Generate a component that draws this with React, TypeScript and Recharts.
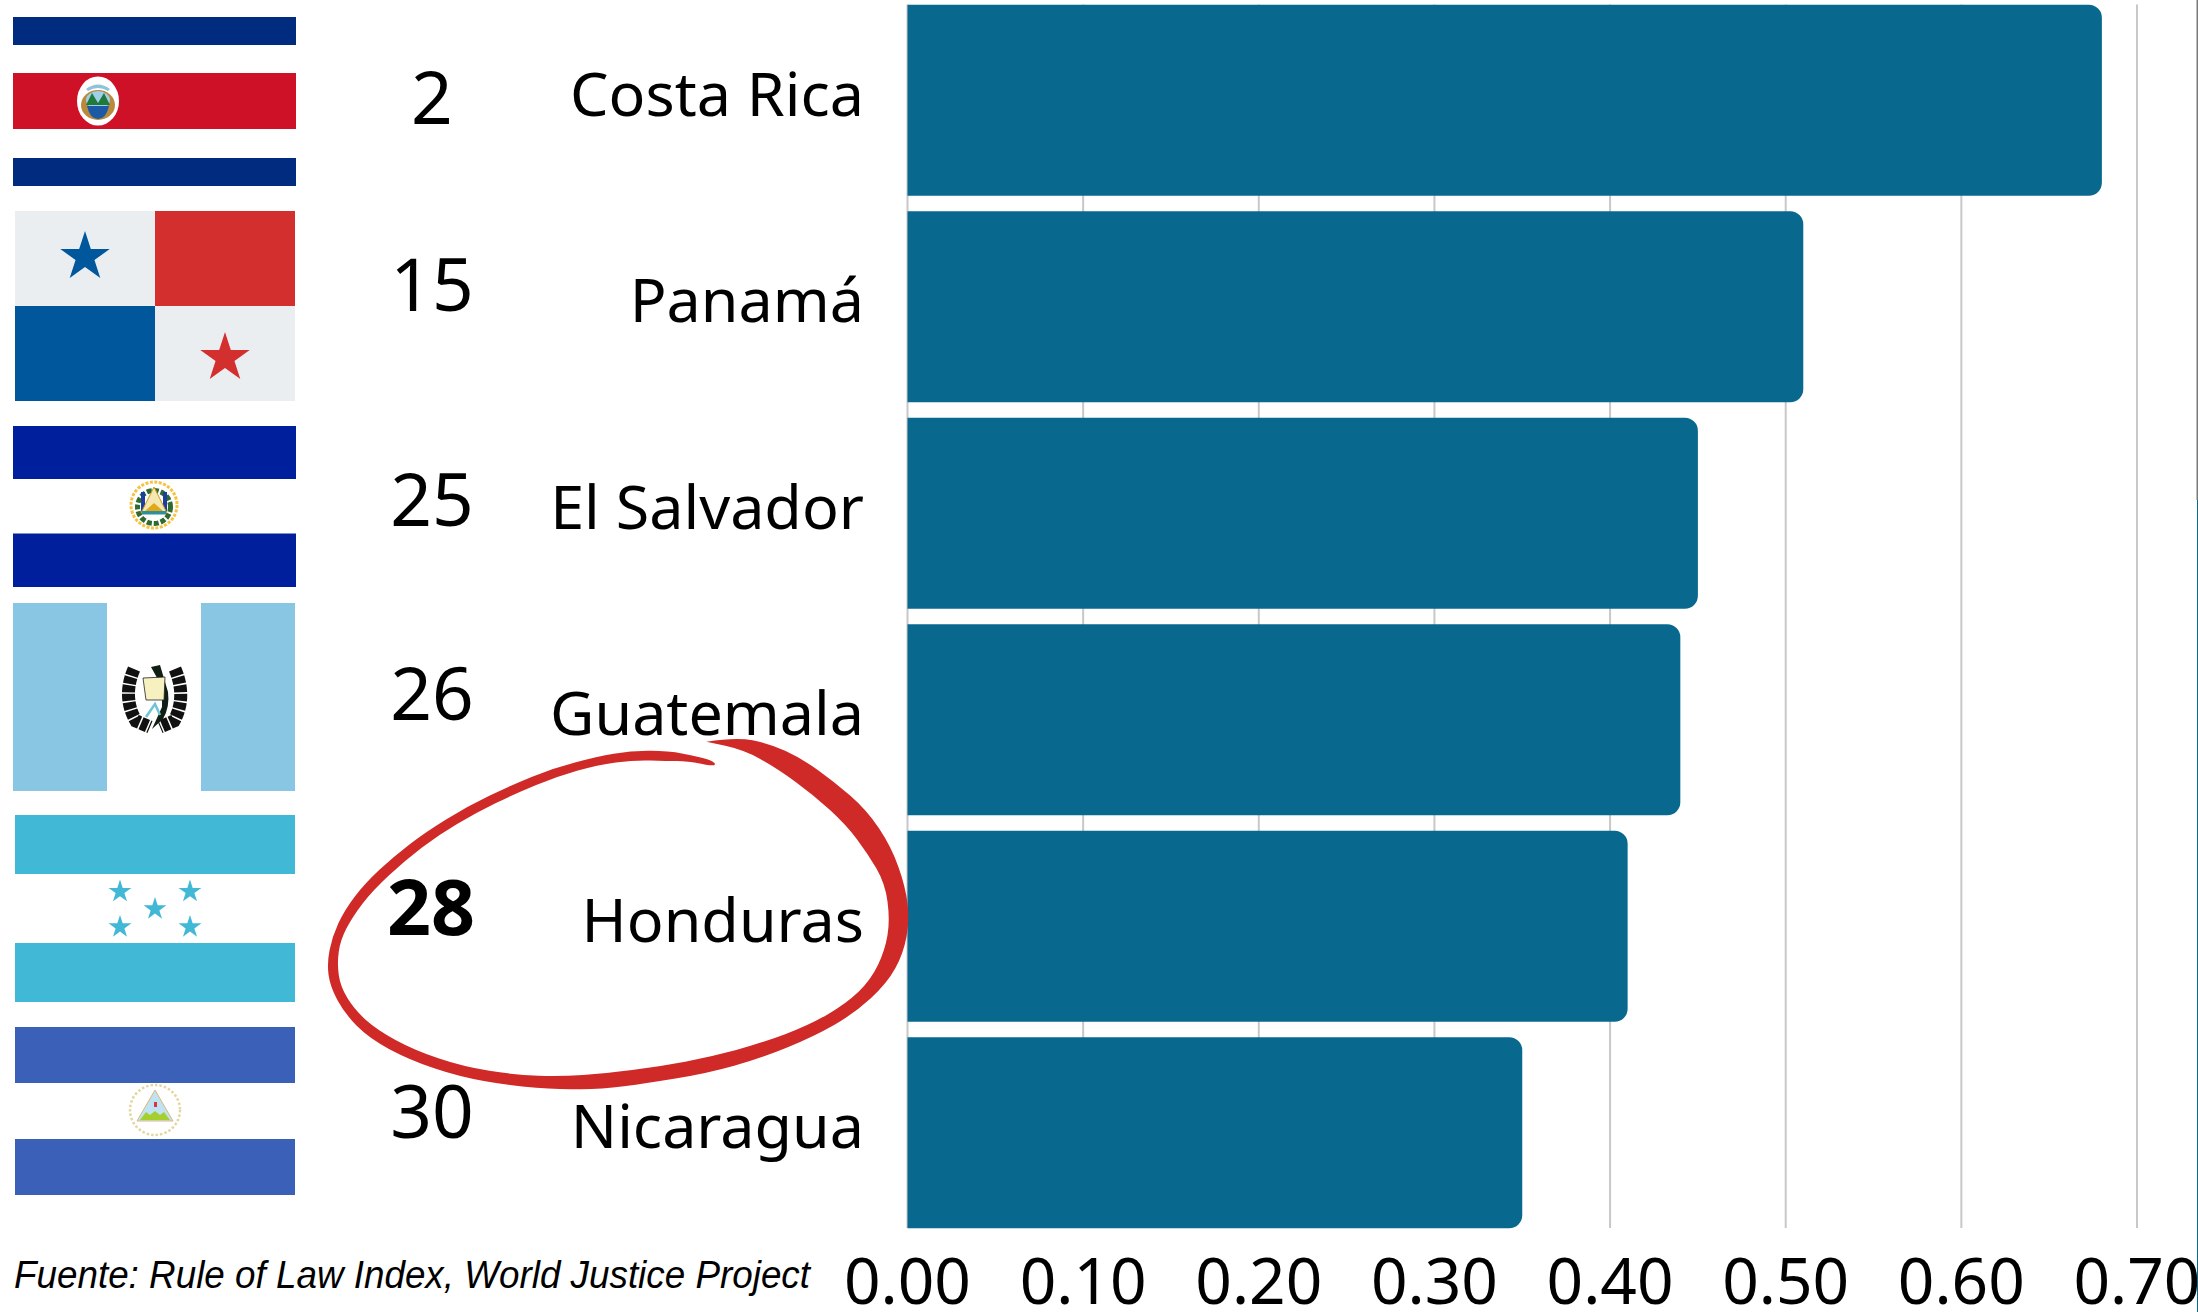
import { BarChart, Bar, XAxis, YAxis, CartesianGrid } from "recharts";

const countries = ["Costa Rica", "Panamá", "El Salvador", "Guatemala", "Honduras", "Nicaragua"];
const scores = [0.68, 0.51, 0.45, 0.44, 0.41, 0.35];
const ranks = ["2", "15", "25", "26", "28", "30"];
const xTicks = [0, 0.1, 0.2, 0.3, 0.4, 0.5, 0.6, 0.7];
const source = "Fuente: Rule of Law Index, World Justice Project";

const chartData = countries.map((country, i) => ({ country, score: scores[i] }));

// baselines of the rank numbers, they do not sit evenly in the original
const rankBaselines = [124, 311, 526, 720, 935, 1138];

const BAR_COLOR = "#09688e";
const FONT = "'Noto Sans', sans-serif";

// hand drawn ring (crop coordinates)
const ringOuter = [
  [947, 125], [1020, 112], [1100, 130], [1180, 175], [1260, 245], [1340, 330], [1400, 440], [1435, 560],
  [1445, 660], [1430, 760], [1390, 850], [1310, 940], [1210, 1010], [1080, 1075], [950, 1120], [800, 1150],
  [690, 1168], [590, 1168], [470, 1158], [340, 1130], [220, 1080], [120, 1015], [60, 940], [25, 860],
  [17, 790], [30, 710], [60, 630], [110, 550], [180, 470], [260, 395], [360, 320], [470, 255],
  [570, 205], [680, 170], [760, 153], [850, 152], [930, 170], [968, 185], [968, 200],
];
const ringInner = [
  [900, 183], [850, 183], [770, 180], [680, 195], [580, 230], [480, 280], [380, 340], [290, 405],
  [210, 480], [130, 570], [80, 650], [50, 720], [42, 790], [50, 860], [85, 930], [140, 990],
  [230, 1050], [350, 1100], [480, 1125], [590, 1130], [700, 1120], [830, 1100], [960, 1070], [1080, 1030],
  [1200, 975], [1290, 910], [1350, 840], [1385, 750], [1397, 660], [1385, 550], [1342, 460], [1290, 375],
  [1210, 285], [1120, 205], [1040, 150],
];

function smoothPath(points: number[][]) {
  let d = `M${points[0][0]} ${points[0][1]}`;
  for (let i = 1; i < points.length - 1; i++) {
    const mx = (points[i][0] + points[i + 1][0]) / 2;
    const my = (points[i][1] + points[i + 1][1]) / 2;
    d += `Q${points[i][0]} ${points[i][1]} ${mx} ${my}`;
  }
  const last = points[points.length - 1];
  return d + `L${last[0]} ${last[1]}Z`;
}

function Star({ cx, cy, r, fill }: { cx: number; cy: number; r: number; fill: string }) {
  const pts: string[] = [];
  for (let i = 0; i < 10; i++) {
    const rad = i % 2 === 0 ? r : r * 0.382;
    const a = -Math.PI / 2 + (i * Math.PI) / 5;
    pts.push(`${cx + rad * Math.cos(a)},${cy + rad * Math.sin(a)}`);
  }
  return <polygon points={pts.join(" ")} fill={fill} />;
}

function Flags() {
  return (
    <g>
      {/* Costa Rica */}
      <rect x={13} y={17} width={283} height={28} fill="#002b7f" />
      <rect x={13} y={73} width={283} height={56} fill="#ce1126" />
      <rect x={13} y={158} width={283} height={28} fill="#002b7f" />
      <ellipse cx={98} cy={101} rx={21} ry={24.5} fill="#fff" />
      <ellipse cx={98} cy={105} rx={17} ry={15} fill="#b98a3e" />
      <ellipse cx={98} cy={100} rx={12} ry={9} fill="#9fd0e8" />
      <path d="M86 105 L92 93 L98 103 L104 93 L110 105 Z" fill="#1f7a3c" />
      <path d="M87 106 H109 Q106 119 98 119 Q90 119 87 106 Z" fill="#1c5aa6" />
      <path d="M86 89 Q98 80 110 89 L108 91 Q98 85 88 91 Z" fill="#8fc3dc" />

      {/* Panamá */}
      <rect x={15} y={211} width={140} height={95} fill="#ebeef1" />
      <rect x={155} y={211} width={140} height={95} fill="#d32f2f" />
      <rect x={15} y={306} width={140} height={95} fill="#01579b" />
      <rect x={155} y={306} width={140} height={95} fill="#ebeef1" />
      <Star cx={85} cy={257} r={26} fill="#01579b" />
      <Star cx={225} cy={358} r={26} fill="#d32f2f" />

      {/* El Salvador */}
      <rect x={13} y={426} width={283} height={53} fill="#001f9c" />
      <rect x={13} y={533.5} width={283} height={53.5} fill="#001f9c" />
      <circle cx={154} cy={505} r={23} fill="none" stroke="#f5c242" strokeWidth={3} strokeDasharray="3 1.5" />
      <circle cx={154} cy={507} r={16.5} fill="none" stroke="#2f6b2f" strokeWidth={5} strokeDasharray="5 2" />
      <rect x={141} y={492} width={4} height={22} fill="#1c3f9e" />
      <rect x={163} y={492} width={4} height={22} fill="#1c3f9e" />
      <path d="M154 487 L167 513 H141 Z" fill="#f4e7b0" stroke="#c99a1e" strokeWidth={1} />
      <path d="M145 511 L154 503 L163 511 Z" fill="#e0a91a" />
      <rect x={142} y={511} width={24} height={3.5} fill="#2f8f9a" />

      {/* Guatemala */}
      <rect x={13} y={603} width={94} height={188} fill="#89c6e3" />
      <rect x={201} y={603} width={94} height={188} fill="#89c6e3" />
      <g transform="translate(0 17)">
        <path d="M134 652 Q122 680 136 704 L150 710" fill="none" stroke="#111" strokeWidth={13} strokeDasharray="7 1.5" />
        <path d="M175 652 Q187 680 174 704 L160 710" fill="none" stroke="#111" strokeWidth={13} strokeDasharray="7 1.5" />
        <path d="M151 650 L160 648 L168 675 Q170 690 163 702 L152 712 L162 690 Q164 670 151 650 Z" fill="#0f1f14" />
        <path d="M143 661 L165 660 L164 683 L146 683 Z" fill="#f7f0c0" stroke="#222" strokeWidth={0.8} />
        <path d="M146 700 L155 687 L160 698" fill="none" stroke="#6fc3d8" strokeWidth={2.5} />
      </g>

      {/* Honduras */}
      <rect x={15} y={815} width={280} height={59} fill="#41b8d5" />
      <rect x={15} y={943} width={280} height={59} fill="#41b8d5" />
      <Star cx={120} cy={891.6} r={12} fill="#41b8d5" />
      <Star cx={190} cy={891.6} r={12} fill="#41b8d5" />
      <Star cx={155} cy={909} r={12} fill="#41b8d5" />
      <Star cx={120} cy={927} r={12} fill="#41b8d5" />
      <Star cx={190} cy={927} r={12} fill="#41b8d5" />

      {/* Nicaragua */}
      <rect x={15} y={1027} width={280} height={56} fill="#3a61b7" />
      <rect x={15} y={1139} width={280} height={56} fill="#3a61b7" />
      <circle cx={155} cy={1110} r={25} fill="none" stroke="#e3d6a0" strokeWidth={2.5} strokeDasharray="2.5 2" />
      <path d="M155 1090 L173 1121 H137 Z" fill="#bfe3f2" stroke="#d9b978" strokeWidth={1} />
      <path d="M140 1120 L146 1112 L150 1115 L155 1111 L160 1115 L164 1112 L170 1120 Z" fill="#a6cf2e" />
      <rect x={154} y={1102} width={3} height={5} fill="#d9363e" />
    </g>
  );
}

function CountryTick({ x, y, payload }: any) {
  return (
    <text x={x - 37.5} y={y + 15.7} textAnchor="end" fontFamily={FONT} fontSize={61} fill="#000">
      {payload.value}
    </text>
  );
}

export default function App() {
  return (
    <div style={{ position: "absolute", left: 0, top: 0, width: 2198, height: 1312, background: "#fff", overflow: "hidden" }}>
      <BarChart
        width={2198}
        height={1312}
        data={chartData}
        layout="vertical"
        margin={{ top: 4.5, right: 61, bottom: 0, left: 0 }}
      >
        <CartesianGrid horizontal={false} stroke="#c8c8c8" strokeWidth={2} />
        <XAxis
          type="number"
          domain={[0, 0.7]}
          ticks={xTicks}
          interval={0}
          height={84}
          axisLine={false}
          tickLine={false}
          tickMargin={25}
          tickFormatter={(v: number) => v.toFixed(2)}
          tick={{ fontSize: 64, fill: "#000", fontFamily: FONT }}
        />
        <YAxis
          type="category"
          dataKey="country"
          width={907.5}
          axisLine={false}
          tickLine={false}
          interval={0}
          padding={{ top: -7.7, bottom: -7.7 }}
          tick={<CountryTick />}
          tickMargin={0}
        />
        <Bar dataKey="score" fill={BAR_COLOR} barSize={191} radius={[0, 13, 13, 0]} isAnimationActive={false} />
      </BarChart>

      <svg width={2198} height={1312} style={{ position: "absolute", left: 0, top: 0 }}>
        <Flags />
        {ranks.map((rank, i) => (
          <text
            key={rank}
            x={rank === "28" ? 431 : 432}
            y={rankBaselines[i]}
            textAnchor="middle"
            fontFamily={FONT}
            fontSize={rank === "28" ? 77 : 73}
            fontWeight={rank === "28" ? 700 : 400}
            fill="#000"
          >
            {rank}
          </text>
        ))}
        <text
          x={14}
          y={1288}
          fontFamily="'Liberation Sans', sans-serif"
          fontStyle="italic"
          fontSize={38}
          fill="#000"
          textLength={796}
          lengthAdjust="spacingAndGlyphs"
        >
          {source}
        </text>
        <g transform="translate(320 700) scale(0.408 0.3333)">
          <path d={smoothPath([...ringOuter, ...ringInner, [947, 125]])} fill="#cf2a27" />
        </g>
        <rect x={2196.5} y={0} width={1.5} height={500} fill="#7a7a7a" />
        <rect x={2197} y={500} width={1} height={812} fill={BAR_COLOR} />
      </svg>
    </div>
  );
}
